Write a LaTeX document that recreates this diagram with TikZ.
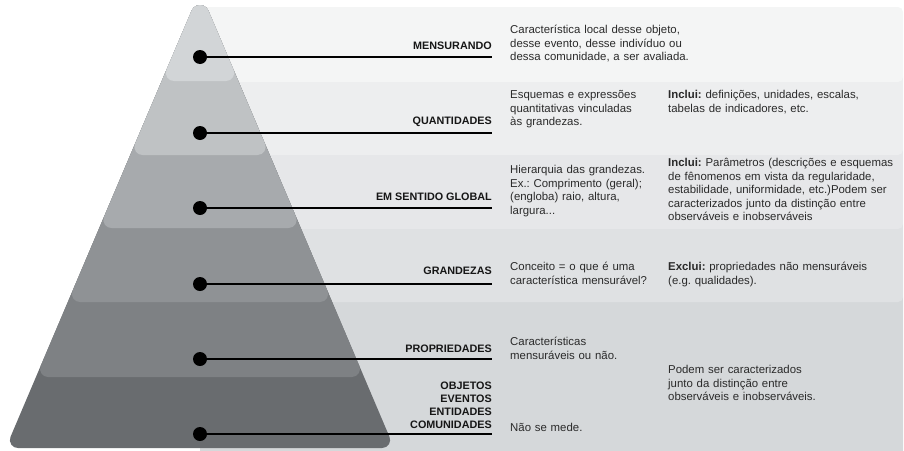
\documentclass[tikz,border=0pt]{standalone}
\usepackage{fontspec}
\setmainfont{Liberation Sans}
\frenchspacing
\definecolor{py1}{HTML}{D2D5D7}
\definecolor{py2}{HTML}{BFC2C4}
\definecolor{py3}{HTML}{A7AAAD}
\definecolor{py4}{HTML}{8F9295}
\definecolor{py5}{HTML}{7E8184}
\definecolor{py6}{HTML}{696C6F}
\definecolor{bd1}{HTML}{F4F5F5}
\definecolor{bd2}{HTML}{EDEEEF}
\definecolor{bd3}{HTML}{E6E7E9}
\definecolor{bd4}{HTML}{DFE1E3}
\definecolor{bd5}{HTML}{D5D8DA}
\definecolor{labc}{HTML}{161616}
\definecolor{descc}{HTML}{2A2A2A}
% one pyramid layer: colour, bottom y (virtual apex at (200,-9), half slope 0.425,
% apex fillet radius 9, bottom fillets radius 8)
\newcommand\pyrlayer[2]{%
  \pgfmathsetmacro\pyxl{200-0.425*(#2+9)}%
  \pgfmathsetmacro\pyxr{200+0.425*(#2+9)}%
  \fill[#1] ({\pyxl+12.09},#2) -- ({\pyxr-12.09},#2)
    arc[start angle=90, end angle=-23.03, radius=8]
    -- (208.29,10.49) arc[start angle=-23.03, end angle=-156.97, radius=9]
    -- ({\pyxl+4.73},{#2-11.13}) arc[start angle=203.03, end angle=90, radius=8]
    -- cycle;}
\begin{document}
\begin{tikzpicture}[x=1pt,y=-1pt,
  lab/.style={anchor=base east, inner sep=0, font=\fontsize{10.8}{13}\selectfont\bfseries, text=labc},
  desc/.style={anchor=base west, inner sep=0, text width=240, align=left, font=\fontsize{11.4}{13.5}\selectfont, text=descc},
  dot/.style={circle, fill=black, inner sep=0, minimum size=14},
  conn/.style={line width=2.8, black},
  band/.style={rounded corners=5}]
\path[use as bounding box] (0,0) rectangle (904,450);
\clip (0,0) rectangle (904,450);
% bands
\fill[bd5, band] (200,292) rectangle (903,470);
\fill[bd4, band] (200,219) rectangle (903,302);
\fill[bd3, band] (200,145) rectangle (903,229);
\fill[bd2, band] (200,72) rectangle (903,155);
\fill[bd1, band] (200,7) rectangle (903,82);
% pyramid
\pyrlayer{py6}{448}
\pyrlayer{py5}{377}
\pyrlayer{py4}{302}
\pyrlayer{py3}{228}
\pyrlayer{py2}{155}
\pyrlayer{py1}{81}
% dots and connectors
\node[dot] (d1) at (200,57) {};
\node[dot] (d2) at (200,133) {};
\node[dot] (d3) at (200,208) {};
\node[dot] (d4) at (200,284) {};
\node[dot] (d5) at (200,359) {};
\node[dot] (d6) at (200,434) {};
\coordinate (e1) at (492,57);
\coordinate (e2) at (492,133);
\coordinate (e3) at (492,208);
\coordinate (e4) at (492,284);
\coordinate (e5) at (492,359);
\coordinate (e6) at (492,434);
\draw[conn] (d1.center) -- (e1);
\draw[conn] (d2.center) -- (e2);
\draw[conn] (d3.center) -- (e3);
\draw[conn] (d4.center) -- (e4);
\draw[conn] (d5.center) -- (e5);
\draw[conn] (d6.center) -- (e6);
% labels
\node[lab] (l1) at (492,49) {MENSURANDO};
\node[lab] (l2) at (492,124) {QUANTIDADES};
\node[lab] (l3) at (492,200) {EM SENTIDO GLOBAL};
\node[lab] (l4) at (492,274) {GRANDEZAS};
\node[lab] (l5) at (492,352) {PROPRIEDADES};
\node[lab, text width=120, align=right] (l6) at (492,389) {OBJETOS\\EVENTOS\\ENTIDADES\\COMUNIDADES};
% descriptions, column 1
\node[desc] (a1) at (510,33.5) {Característica local desse objeto,\\desse evento, desse indivíduo ou\\dessa comunidade, a ser avaliada.};
\node[desc] (a2) at (510,98.5) {Esquemas e expressões\\quantitativas vinculadas\\às grandezas.};
\node[desc] (a3) at (510,173.5) {Hierarquia das grandezas.\\Ex.: Comprimento (geral);\\(engloba) raio, altura,\\largura...};
\node[desc] (a4) at (510,270.5) {Conceito = o que é uma\\característica mensurável?};
\node[desc] (a5) at (510,345.5) {Características\\mensuráveis ou não.};
\node[desc] (a6) at (510,431.5) {Não se mede.};
% descriptions, column 2
\node[desc] (b2) at (668,98.5) {\textbf{Inclui:} definições, unidades, escalas,\\tabelas de indicadores, etc.};
\node[desc] (b3) at (668,166.5) {\textbf{Inclui:} Parâmetros (descrições e esquemas\\de fênomenos em vista da regularidade,\\estabilidade, uniformidade, etc.)Podem ser\\caracterizados junto da distinção entre\\observáveis e inobserváveis};
\node[desc] (b4) at (668,270.5) {\textbf{Exclui:} propriedades não mensuráveis\\(e.g. qualidades).};
\node[desc] (b5) at (668,373.5) {Podem ser caracterizados\\junto da distinção entre\\observáveis e inobserváveis.};
\end{tikzpicture}
\end{document}
